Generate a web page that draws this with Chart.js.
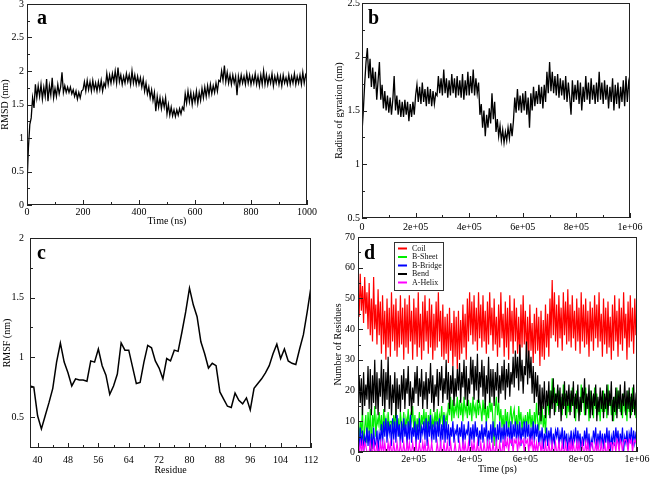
<!DOCTYPE html>
<html>
<head>
<meta charset="utf-8">
<script src="https://cdn.jsdelivr.net/npm/chart.js@4.4.1/dist/chart.umd.min.js"></script>
<style>
body { margin:0; background:#fff; width:650px; height:477px; position:relative; overflow:hidden; }
canvas { position:absolute; }
</style>
</head>
<body>
<canvas id="chartA" width="325" height="230" style="left:0;top:0"></canvas>
<canvas id="chartB" width="325" height="240" style="left:325px;top:0"></canvas>
<canvas id="chartC" width="325" height="247" style="left:0;top:230px"></canvas>
<canvas id="chartD" width="325" height="247" style="left:325px;top:230px"></canvas>
<script>
// ---- panel a : RMSD (nm), one value every 5 ns
var rmsdStep = 5;
var rmsd = [
 0.3,0.85,1.2,1.3,1.6,1.45,1.8,1.6,1.78,1.62,
 1.8,1.58,1.76,1.62,1.88,1.55,1.78,1.64,1.9,1.6,
 1.74,1.62,1.8,1.66,1.76,1.98,1.68,1.78,1.68,1.76,
 1.68,1.76,1.66,1.72,1.62,1.7,1.58,1.68,1.6,1.7,
 1.72,1.84,1.7,1.86,1.72,1.84,1.7,1.86,1.72,1.82,
 1.7,1.84,1.72,1.86,1.7,1.82,1.76,1.96,1.8,1.94,
 1.82,1.96,1.84,2.0,1.82,2.05,1.84,1.94,1.8,1.92,
 1.82,1.96,1.84,1.94,1.8,2.0,1.82,1.94,1.8,1.92,
 1.8,1.9,1.76,1.88,1.7,1.82,1.66,1.76,1.6,1.72,
 1.56,1.68,1.4,1.62,1.46,1.6,1.44,1.58,1.46,1.6,
 1.36,1.5,1.34,1.46,1.33,1.42,1.32,1.42,1.34,1.44,
 1.36,1.46,1.42,1.66,1.52,1.7,1.54,1.68,1.5,1.66,
 1.54,1.7,1.52,1.68,1.56,1.74,1.6,1.76,1.62,1.78,
 1.64,1.8,1.66,1.78,1.68,1.82,1.7,1.86,1.84,2.0,
 1.86,2.08,1.84,1.98,1.82,1.94,1.8,1.94,1.82,1.92,
 1.64,1.92,1.8,1.94,1.82,1.92,1.8,1.96,1.82,1.94,
 1.8,1.92,1.82,1.96,1.8,1.92,1.78,1.94,1.8,2.0,
 1.8,1.94,1.8,1.92,1.82,1.96,1.78,1.92,1.82,1.94,
 1.8,1.92,1.78,1.94,1.82,1.9,1.8,1.94,1.8,1.92,
 1.82,1.96,1.8,1.92,1.82,1.94,1.8,1.98,1.82,1.94,
 1.88
];
var ticksAx = [0,200,400,600,800,1000];
var ticksAy = [0,0.5,1,1.5,2,2.5,3];

// ---- panel b : radius of gyration (nm), one value every 5000 ps
var rgStep = 5000;
var rg = [
 1.3,1.5,1.75,1.95,2.08,1.8,1.98,1.72,1.9,1.7,
 1.86,1.6,1.78,1.95,1.6,1.74,1.52,1.68,1.5,1.64,
 1.48,1.62,1.46,1.6,1.82,1.5,1.64,1.46,1.6,1.44,
 1.58,1.44,1.6,1.46,1.58,1.4,1.56,1.44,1.58,1.46,
 1.64,1.74,1.58,1.72,1.56,1.76,1.58,1.7,1.54,1.72,
 1.56,1.7,1.54,1.68,1.56,1.66,1.64,1.82,1.66,1.8,
 1.64,1.88,1.66,1.8,1.62,1.78,1.64,1.84,1.66,1.8,
 1.62,1.82,1.64,1.78,1.62,1.84,1.6,1.78,1.64,1.86,
 1.64,1.82,1.66,1.88,1.64,1.8,1.66,1.76,1.46,1.56,
 1.34,1.5,1.26,1.46,1.34,1.52,1.38,1.66,1.42,1.58,
 1.3,1.42,1.26,1.36,1.22,1.32,1.2,1.3,1.22,1.34,
 1.24,1.38,1.26,1.4,1.62,1.48,1.7,1.5,1.64,1.48,
 1.66,1.5,1.68,1.46,1.62,1.34,1.66,1.5,1.72,1.54,
 1.68,1.56,1.74,1.56,1.72,1.52,1.74,1.58,1.86,1.66,
 1.95,1.68,1.86,1.66,1.82,1.64,1.84,1.62,1.8,1.64,
 1.78,1.6,1.82,1.58,1.76,1.62,1.46,1.78,1.58,1.74,
 1.6,1.78,1.56,1.76,1.5,1.72,1.58,1.82,1.6,1.76,
 1.56,1.8,1.6,1.74,1.56,1.76,1.58,1.86,1.6,1.76,
 1.56,1.78,1.6,1.74,1.52,1.72,1.58,1.8,1.5,1.74,
 1.56,1.76,1.52,1.72,1.58,1.78,1.54,1.82,1.58,1.76,
 1.68
];
var ticksBx = [0,200000,400000,600000,800000,1000000];
var ticksBy = [0.5,1,1.5,2,2.5];

// ---- panel c : RMSF (nm) per residue, residues 38..112
var firstResidue = 38;
var rmsf = [
 0.76,0.75,0.51,0.40,0.51,0.62,0.74,0.96,1.12,0.96,
 0.87,0.76,0.82,0.81,0.81,0.80,0.97,0.96,1.07,0.93,
 0.85,0.69,0.76,0.86,1.12,1.06,1.06,0.92,0.78,0.79,
 0.96,1.10,1.08,0.97,0.91,0.82,0.99,0.97,1.06,1.05,
 1.21,1.38,1.58,1.44,1.34,1.13,1.03,0.91,0.95,0.93,
 0.71,0.65,0.59,0.58,0.70,0.64,0.61,0.66,0.56,0.74,
 0.78,0.82,0.87,0.93,1.03,1.11,0.99,1.07,0.97,0.95,
 0.94,1.07,1.19,1.38,1.59
];
var ticksCx = [40,48,56,64,72,80,88,96,104,112];
var ticksCy = [0.5,1,1.5,2];

// ---- panel d : number of residues per structure, one value every 4000 ps
var dsspStep = 4000;
var coil = [
 56,44,58,46,54,42,57,45,52,40, 55,38,50,36,57,40,48,35,53,38,
 49,32,51,35,46,30,50,34,47,31, 52,36,48,33,50,31,46,34,51,35,
 47,30,50,34,48,32,51,36,46,30, 50,35,47,31,52,34,45,30,49,33,
 51,36,46,32,50,34,48,30,45,33, 49,34,52,36,46,31,48,30,44,32,
 45,29,47,33,42,28,46,31,44,27, 46,30,43,32,48,34,45,30,50,36,
 52,38,49,35,51,36,47,33,52,37, 48,34,51,36,46,32,49,35,52,38,
 47,33,50,35,44,31,48,34,52,37, 45,31,49,34,47,30,51,36,46,32,
 50,36,47,32,44,30,48,34,51,35, 46,31,44,30,48,33,42,29,45,32,
 47,33,44,28,46,31,43,30,48,34, 45,31,50,37,56,38,52,36,48,34,
 51,37,47,33,52,38,49,35,53,36, 48,34,51,37,46,33,50,36,47,32,
 52,36,48,34,50,35,46,31,49,36, 47,33,51,37,48,34,52,36,45,31,
 50,35,47,32,49,34,44,30,48,33, 51,36,46,31,50,35,47,33,52,37,
 45,30,49,34,51,36,47,32,50,38,
 42
];
var bSheet = [
 12,3,10,6,14,0,8,12,3,13, 6,14,0,12,8,15,5,11,9,13,
 7,12,5,14,9,11,6,13,8,10, 10,6,12,8,14,7,11,5,13,9,
 8,13,6,11,9,14,7,12,10,15, 7,12,5,11,8,13,6,12,9,14,
 8,13,6,12,9,14,7,11,8,13, 9,14,7,12,10,15,8,13,9,12,
 10,16,12,18,10,17,11,15,13,18, 11,17,12,16,10,18,13,15,11,17,
 12,16,10,18,13,15,11,17,12,16, 14,10,17,12,16,9,15,11,18,13,
 16,10,2,14,18,12,16,10,14,8, 12,6,14,9,13,7,11,15,9,12,
 14,8,12,6,15,10,13,7,11,9, 12,7,13,9,14,8,12,6,13,9,
 16,10,7,13,9,15,8,12,6,14, 18,12,20,14,24,16,21,13,19,15,
 20,14,18,12,22,15,19,11,17,13, 19,13,21,15,18,10,20,14,16,12,
 22,16,19,12,21,14,18,10,20,15, 17,11,21,14,19,12,16,10,18,13,
 20,13,18,11,22,15,19,12,17,10, 18,12,21,14,20,13,17,11,19,14,
 16,10,20,13,18,12,21,14,17,11,
 15
];
var bBridge = [
 6,0,8,2,7,0,5,3,8,2, 7,0,6,1,8,2,3,7,0,6,
 4,9,2,10,5,11,3,10,6,9, 2,11,4,10,3,12,5,9,2,10,
 3,11,5,9,2,10,4,12,3,8, 5,10,2,9,4,11,3,8,6,10,
 4,11,2,10,5,12,3,9,4,10, 3,10,5,11,2,9,4,12,3,10,
 4,9,2,8,5,10,3,7,6,9, 3,8,5,10,2,9,4,7,6,10,
 2,8,4,9,3,10,5,8,2,7, 4,9,3,8,5,10,2,7,4,9,
 3,10,5,8,2,9,4,10,3,8, 4,9,2,10,5,8,3,10,2,9,
 5,10,3,9,4,10,2,8,5,10, 3,10,5,9,2,8,4,10,3,9,
 5,9,2,7,4,8,1,6,3,8, 2,7,4,8,1,6,3,7,5,8,
 2,6,4,8,1,7,3,6,0,5, 3,7,1,6,4,8,2,7,3,6,
 0,5,2,7,3,8,1,6,0,4, 2,7,4,8,1,6,3,7,2,6,
 1,6,3,8,2,7,0,5,3,7, 2,8,4,7,1,6,3,8,0,5,
 3,7,1,6,4,8,2,7,3,6,
 5
];
var bend = [
 13,25,16,24,12,26,15,22,17,28, 14,27,12,25,16,30,14,26,12,24,
 18,30,15,27,13,26,17,31,14,25, 12,22,16,26,11,24,14,22,13,25,
 17,27,14,24,19,28,15,23,12,21, 16,26,19,28,15,24,18,27,14,23,
 17,26,14,24,19,29,16,25,13,22, 18,27,15,26,20,28,16,24,19,30,
 17,26,14,25,19,28,15,24,18,27, 20,29,16,26,21,30,17,28,15,24,
 19,31,22,30,17,28,20,32,16,26, 21,30,18,28,14,25,19,31,16,27,
 18,27,15,26,20,29,16,25,19,28, 20,30,17,27,21,29,18,26,22,31,
 21,33,24,31,20,35,23,30,19,28, 25,36,22,33,24,31,19,28,16,26,
 18,25,12,22,10,21,14,23,11,20, 15,23,11,20,14,24,12,19,16,22,
 13,21,10,19,14,23,12,20,15,22, 12,20,15,23,11,19,14,22,10,18,
 13,21,16,24,12,19,14,22,11,20, 12,19,15,22,10,18,13,21,14,20,
 11,19,14,22,12,20,15,23,10,18, 13,21,11,20,14,22,12,19,15,23,
 12,20,14,21,11,19,13,22,12,18,
 16
];
var aHelix = [
 3,0,3,0,3,0,3,2,0,0, 0,3,0,0,3,0,0,3,0,0,
 3,0,3,0,3,0,0,3,0,3, 0,0,3,0,0,3,0,0,3,0,
 0,3,0,0,3,0,3,0,0,3, 0,0,3,0,0,3,0,0,3,0,
 3,0,0,3,0,0,3,0,0,0, 0,3,0,0,3,0,0,3,0,0,
 3,0,0,3,0,0,0,3,0,0, 0,3,0,0,3,0,3,0,0,3,
 0,0,3,0,3,0,0,3,0,0, 3,0,0,3,0,0,3,0,3,0,
 0,3,0,0,3,0,0,3,0,0, 4,0,4,2,4,0,4,3,4,0,
 4,3,4,0,4,2,4,3,4,0, 4,3,4,0,4,2,4,0,3,0,
 3,0,3,3,0,3,0,0,3,0, 0,3,0,0,3,0,0,3,0,0,
 3,0,0,3,0,0,3,0,0,3, 0,3,0,3,0,0,3,0,3,0,
 0,3,0,0,3,0,3,0,0,3, 3,0,0,3,0,3,0,0,3,0,
 0,3,0,0,3,0,3,3,0,3, 3,0,4,3,0,4,3,0,3,4,
 4,3,0,4,3,4,0,3,4,3,
 3
];
var ticksDx = [0,200000,400000,600000,800000,1000000];
var ticksDy = [0,10,20,30,40,50,60,70];

var serif = "'Liberation Serif', 'DejaVu Serif', serif";

function pts(values, step, start) {
  return values.map(function (v, i) { return { x: (start || 0) + i * step, y: v }; });
}

function sci(v) {
  if (v === 0) return '0';
  var e = Math.floor(Math.log10(v) + 1e-9);
  var m = Math.round(v / Math.pow(10, e));
  return m + 'e+' + (e < 10 ? '0' + e : e);
}

// box around the plot, inward ticks on the left and bottom, panel letter, legend
var frame = {
  id: 'frame',
  afterDatasetsDraw: function (chart, args, o) {
    var ctx = chart.ctx, a = chart.chartArea;
    var x = chart.scales.x, y = chart.scales.y;
    ctx.save();
    ctx.strokeStyle = '#222';
    ctx.lineWidth = 1;
    ctx.strokeRect(Math.round(a.left) + 0.5, Math.round(a.top) + 0.5,
                   Math.round(a.width) - 1, Math.round(a.height) - 1);
    function minors(t, min, max) {
      var h = (t[1] - t[0]) / 2, out = [];
      for (var v = t[0] - h; v <= max + 1e-9; v += 2 * h) if (v >= min - 1e-9) out.push(v);
      return out;
    }
    ctx.beginPath();
    o.xt.forEach(function (v) {
      var p = Math.round(x.getPixelForValue(v)) + 0.5;
      ctx.moveTo(p, a.bottom); ctx.lineTo(p, a.bottom - 5);
    });
    minors(o.xt, x.min, x.max).forEach(function (v) {
      var p = Math.round(x.getPixelForValue(v)) + 0.5;
      ctx.moveTo(p, a.bottom); ctx.lineTo(p, a.bottom - 3);
    });
    o.yt.forEach(function (v) {
      var p = Math.round(y.getPixelForValue(v)) + 0.5;
      ctx.moveTo(a.left, p); ctx.lineTo(a.left + 5, p);
    });
    minors(o.yt, y.min, y.max).forEach(function (v) {
      var p = Math.round(y.getPixelForValue(v)) + 0.5;
      ctx.moveTo(a.left, p); ctx.lineTo(a.left + 3, p);
    });
    ctx.stroke();

    ctx.fillStyle = '#000';
    ctx.font = 'bold 20px ' + serif;
    ctx.textBaseline = 'alphabetic';
    ctx.fillText(o.letter, a.left + o.lx, a.top + o.ly);

    if (o.legend) {
      var lx = a.left + 36, ly = a.top + 5;
      ctx.fillStyle = '#fff';
      ctx.fillRect(lx, ly, 49, 48);
      ctx.strokeStyle = '#333';
      ctx.strokeRect(lx + 0.5, ly + 0.5, 49, 48);
      ctx.font = '8px ' + serif;
      ctx.textBaseline = 'middle';
      chart.data.datasets.forEach(function (ds, i) {
        var yy = ly + 6.5 + i * 8.5;
        ctx.strokeStyle = ds.borderColor;
        ctx.lineWidth = 2;
        ctx.beginPath(); ctx.moveTo(lx + 4, yy); ctx.lineTo(lx + 13, yy); ctx.stroke();
        ctx.fillStyle = '#111';
        ctx.fillText(ds.label, lx + 18, yy);
      });
    }
    ctx.restore();
  }
};

function panel(o) {
  var tickFont = { family: serif, size: 10, lineHeight: 1 };
  var titleFont = { family: serif, size: 10, lineHeight: 1 };
  return {
    type: 'line',
    data: { datasets: o.datasets },
    options: {
      responsive: false,
      animation: false,
      layout: { padding: { left: 0, right: o.pr, top: o.pt, bottom: 0 } },
      elements: { point: { radius: 0 }, line: { borderWidth: 1, tension: 0 } },
      plugins: {
        legend: { display: false },
        tooltip: { enabled: false },
        frame: { xt: o.xt, yt: o.yt, letter: o.letter, lx: o.lx, ly: o.ly, legend: o.legend }
      },
      scales: {
        x: {
          type: 'linear', min: o.xmin, max: o.xmax,
          afterBuildTicks: function (s) { s.ticks = o.xt.map(function (v) { return { value: v }; }); },
          afterFit: function (s) { s.height = o.xh; s.paddingLeft = 0; s.paddingRight = 0; },
          grid: { display: false, drawTicks: false },
          border: { display: false },
          ticks: { font: tickFont, color: '#000', padding: o.xpad, maxRotation: 0, autoSkip: false,
                   callback: o.xfmt || function (v) { return String(v); } },
          title: { display: !!o.xtitle, text: o.xtitle, font: titleFont, color: '#000',
                   padding: { top: 0, bottom: o.xtp } }
        },
        y: {
          type: 'linear', min: o.ymin, max: o.ymax,
          afterBuildTicks: function (s) { s.ticks = o.yt.map(function (v) { return { value: v }; }); },
          afterFit: function (s) { s.width = o.yw; s.paddingTop = 0; s.paddingBottom = 0; },
          grid: { display: false, drawTicks: false },
          border: { display: false },
          ticks: { font: tickFont, color: '#000', padding: o.ypad, autoSkip: false,
                   callback: function (v) { return String(+v.toFixed(2)); } },
          title: { display: true, text: o.ytitle, font: titleFont, color: '#000',
                   padding: { top: o.ytp, bottom: 0 } }
        }
      }
    },
    plugins: [frame]
  };
}

new Chart(document.getElementById('chartA'), panel({
  datasets: [{ data: pts(rmsd, rmsdStep), borderColor: '#000', borderWidth: 1.3 }],
  xmin: 0, xmax: 1000, ymin: 0, ymax: 3, xt: ticksAx, yt: ticksAy,
  pr: 18, pt: 4, xh: 25, yw: 27, xpad: 2, ypad: 3, xtp: 4, ytp: 0,
  xtitle: 'Time (ns)', ytitle: 'RMSD (nm)', letter: 'a', lx: 10, ly: 20
}));

new Chart(document.getElementById('chartB'), panel({
  datasets: [{ data: pts(rg, rgStep), borderColor: '#000', borderWidth: 1.3 }],
  xmin: 0, xmax: 1000000, ymin: 0.5, ymax: 2.5, xt: ticksBx, yt: ticksBy,
  pr: 20, pt: 3, xh: 22, yw: 37, xpad: 4, ypad: 2, xtp: 0, ytp: 9,
  xfmt: sci, ytitle: 'Radius of gyration (nm)', letter: 'b', lx: 6, ly: 21
}));

new Chart(document.getElementById('chartC'), panel({
  datasets: [{ data: pts(rmsf, 1, firstResidue), borderColor: '#000', borderWidth: 1.5 }],
  xmin: 38, xmax: 112, ymin: 0.24, ymax: 2, xt: ticksCx, yt: ticksCy,
  pr: 14, pt: 8, xh: 29, yw: 30, xpad: 7, ypad: 6, xtp: 2, ytp: 2,
  xtitle: 'Residue', ytitle: 'RMSF (nm)', letter: 'c', lx: 7, ly: 21
}));

new Chart(document.getElementById('chartD'), panel({
  datasets: [
    { label: 'Coil', data: pts(coil, dsspStep), borderColor: '#ff0000', borderWidth: 1.2, order: 5 },
    { label: 'B-Sheet', data: pts(bSheet, dsspStep), borderColor: '#00ee00', borderWidth: 1.2, order: 4 },
    { label: 'B-Bridge', data: pts(bBridge, dsspStep), borderColor: '#0000ff', borderWidth: 1.2, order: 2 },
    { label: 'Bend', data: pts(bend, dsspStep), borderColor: '#000000', borderWidth: 1.2, order: 3 },
    { label: 'A-Helix', data: pts(aHelix, dsspStep), borderColor: '#ff00ff', borderWidth: 1.2, order: 1 }
  ],
  xmin: 0, xmax: 1000000, ymin: 0, ymax: 70, xt: ticksDx, yt: ticksDy,
  pr: 13, pt: 7, xh: 25, yw: 33, xpad: 2, ypad: 3, xtp: 3, ytp: 8,
  xfmt: sci, xtitle: 'Time (ps)', ytitle: 'Number of Residues', letter: 'd', lx: 6, ly: 22,
  legend: true
}));
</script>
</body>
</html>
